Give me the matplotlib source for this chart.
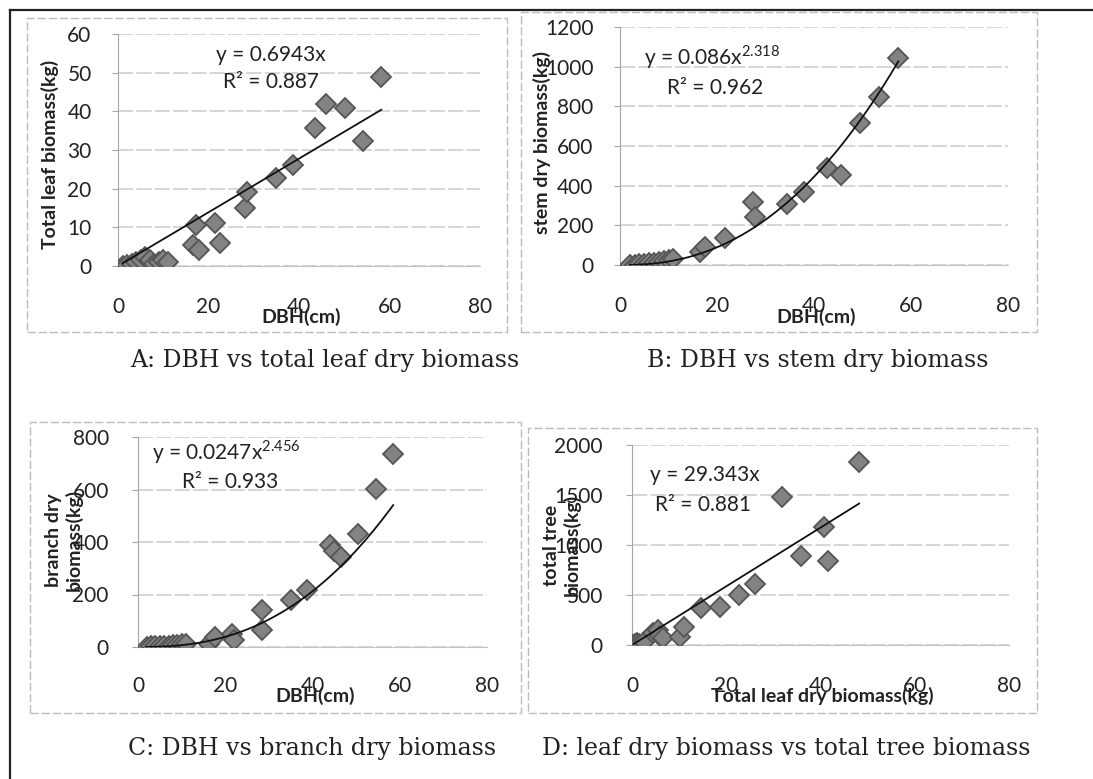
import numpy as np
import matplotlib
matplotlib.use("Agg")
import matplotlib.pyplot as plt
from matplotlib.patches import Rectangle
from matplotlib.lines import Line2D

plt.rcParams['font.family'] = ['Lato', 'DejaVu Sans']
plt.rcParams['mathtext.fontset'] = 'custom'
plt.rcParams['mathtext.rm'] = 'Lato'

# A: DBH vs total leaf biomass
dbh_a = [1, 2, 3, 4, 5, 6, 7, 8, 9, 10, 11, 16.5, 17.3, 18, 21.4, 22.5, 28, 28.4,
         35, 38.7, 43.5, 46, 50.1, 54.1, 58.2]
leaf_a = [0, 0.3, 0.5, 1, 1.5, 2.4, 1.5, 0.5, 1, 1.5, 1, 5.4, 10.6, 4.2, 11.2, 5.9,
          14.9, 19.2, 22.7, 26.1, 35.6, 41.9, 40.8, 32.2, 48.8]

# B: DBH vs stem biomass
dbh_b = [2, 3, 4, 5, 6, 7, 8, 9, 10, 11, 16.5, 17.6, 21.6, 27.5, 27.8, 34.5, 38,
         42.7, 45.5, 49.4, 53.3, 57.4]
stem_b = [1, 2, 3, 5, 8, 10, 14, 20, 25, 30, 67, 92, 134, 319, 243, 310, 369,
          487, 453, 716, 847, 1045]

# C: DBH vs branch biomass
dbh_c = [2, 3, 4, 5, 6, 7, 8, 9, 10, 11, 16.2, 17.7, 21.5, 21.9, 28.5, 28.5, 35,
         38.8, 44, 45, 46.5, 50.4, 54.6, 58.5]
branch_c = [1, 2, 2, 3, 4, 5, 6, 8, 10, 12, 13, 38, 51, 25, 140, 66, 178, 218,
            387, 365, 343, 429, 603, 736]

# D: leaf biomass vs total tree biomass
leaf_d = [0.3, 0.6, 1, 1.5, 2.5, 4.5, 5.5, 6, 6.5, 10.2, 11, 14.7, 18.6, 22.7, 26,
          31.8, 35.8, 40.7, 41.6, 48.2]
total_d = [5, 15, 25, 10, 30, 120, 150, 90, 70, 83, 183, 373, 383, 500, 610,
           1483, 890, 1183, 840, 1833]

W, H = 1093, 779
fig = plt.figure(figsize=(W / 100, H / 100), dpi=100)


def rect(l, t, r, b):
    return [l / W, 1 - b / H, (r - l) / W, (b - t) / H]


def ftext(x, y, s, **kw):
    fig.text(x / W, 1 - y / H, s, **kw)


def panel(pos, x, y, ymax, ystep, fit, xpad, ypad):
    ax = fig.add_axes(rect(*pos))
    xs = np.linspace(min(x), max(x), 200)
    ax.plot(x, y, 'D', ms=10, mfc='#838383', mec='#555555', mew=1.3, zorder=3)
    ax.plot(xs, fit(xs), color='#111111', lw=1.3, zorder=4)
    ax.set_xlim(0, 80)
    ax.set_ylim(0, ymax)
    ax.set_xticks(np.arange(0, 81, 20))
    ax.set_yticks(np.arange(0, ymax + 1, ystep))
    ax.yaxis.grid(True, color='#cccccc', lw=1.1, ls=(0, (10, 2)))
    ax.set_axisbelow(True)
    for s in ['top', 'right']:
        ax.spines[s].set_visible(False)
    ax.spines['left'].set_color('#a5a5a5')
    ax.spines['bottom'].set_color('#c4c4c4')
    ax.tick_params(axis='x', length=0, pad=xpad, labelsize=15, colors='#222222')
    ax.tick_params(axis='y', length=4, color='#a5a5a5', pad=ypad, labelsize=15,
                   labelcolor='#222222')
    ax.set_facecolor('none')
    return ax


# panel frames
for l, t, r, b in [(27, 18, 507, 332), (521, 12, 1037, 332),
                   (30, 422, 521, 713), (528, 428, 1037, 713)]:
    fig.patches.append(Rectangle((l / W, 1 - b / H), (r - l) / W, (b - t) / H,
                                 transform=fig.transFigure, fill=False,
                                 ec='#bcbcbc', lw=1.0, ls=(0, (6, 2))))

# outer frame (left and top)
fig.lines.append(Line2D([10 / W, 1], [1 - 10 / H, 1 - 10 / H], transform=fig.transFigure,
                        color='#222222', lw=1.6))
fig.lines.append(Line2D([10 / W, 10 / W], [1 - 10 / H, 0], transform=fig.transFigure,
                        color='#222222', lw=1.6))

panel((118, 34, 480, 266), dbh_a, leaf_a, 60, 10, lambda v: 0.6943 * v, 22, 15)
panel((620, 27, 1008, 265), dbh_b, stem_b, 1200, 200, lambda v: 0.086 * v ** 2.318, 22, 15)
panel((138, 437, 487, 647), dbh_c, branch_c, 800, 200, lambda v: 0.0247 * v ** 2.456, 21, 17)
panel((632, 445, 1009, 645), leaf_d, total_d, 2000, 500, lambda v: 29.343 * v, 22, 17)

bold = dict(fontsize=14, fontweight='bold', color='#222222')
# axis titles
ftext(50, 154, 'Total leaf biomass(kg)', rotation=90, ha='center', va='center', **bold)
ftext(542, 143, 'stem dry biomass(kg)', rotation=90, ha='center', va='center', **bold)
ftext(64, 540, 'branch dry\nbiomass(kg)', rotation=90, ha='center', va='center',
      linespacing=1.15, **bold)
ftext(562, 545, 'total tree\nbiomass(kg)', rotation=90, ha='center', va='center',
      linespacing=1.15, **bold)
ftext(301, 317, 'DBH(cm)', ha='center', va='center', **bold)
ftext(816, 317, 'DBH(cm)', ha='center', va='center', **bold)
ftext(315, 696, 'DBH(cm)', ha='center', va='center', **bold)
ftext(822, 696, 'Total leaf dry biomass(kg)', ha='center', va='center', **bold)

# trendline equations
eq = dict(fontsize=15, color='#222222', va='center')
ftext(271, 55, 'y = 0.6943x', ha='center', **eq)
ftext(271, 82, 'R² = 0.887', ha='center', **eq)
ftext(644, 57, r'y = 0.086x$^{2.318}$', ha='left', **eq)
ftext(667, 88, 'R² = 0.962', ha='left', **eq)
ftext(152, 452, r'y = 0.0247x$^{2.456}$', ha='left', **eq)
ftext(182, 482, 'R² = 0.933', ha='left', **eq)
ftext(650, 475, 'y = 29.343x', ha='left', **eq)
ftext(655, 505, 'R² = 0.881', ha='left', **eq)

# captions
cap = dict(fontsize=17, family='DejaVu Serif', color='#222222', ha='center', va='center')
ftext(325, 360, 'A: DBH vs total leaf dry biomass', **cap)
ftext(818, 360, 'B: DBH vs stem dry biomass', **cap)
ftext(312, 748, 'C: DBH vs branch dry biomass', **cap)
ftext(786, 748, 'D: leaf dry biomass vs total tree biomass', **cap)

fig.savefig('out.png', dpi=100)
